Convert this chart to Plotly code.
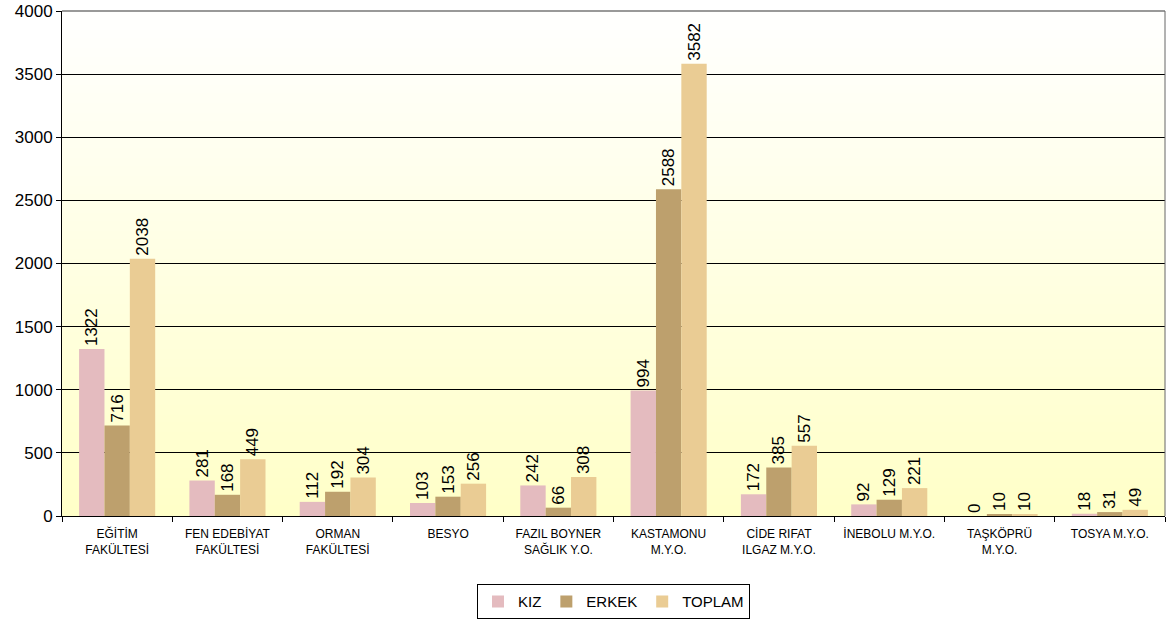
import base64, struct, zlib
import plotly.graph_objects as go

categories = ["EĞİTİM<br>FAKÜLTESİ", "FEN EDEBİYAT<br>FAKÜLTESİ", "ORMAN<br>FAKÜLTESİ", "BESYO",
              "FAZIL BOYNER<br>SAĞLIK Y.O.", "KASTAMONU<br>M.Y.O.", "CİDE RIFAT<br>ILGAZ M.Y.O.",
              "İNEBOLU M.Y.O.", "TAŞKÖPRÜ<br>M.Y.O.", "TOSYA M.Y.O."]
kiz = [1322, 281, 112, 103, 242, 994, 172, 92, 0, 18]
erkek = [716, 168, 192, 153, 66, 2588, 385, 129, 10, 31]
toplam = [2038, 449, 304, 256, 308, 3582, 557, 221, 10, 49]

series = [("KIZ", kiz, "#E4BBBF"), ("ERKEK", erkek, "#BDA06D"), ("TOPLAM", toplam, "#EACC94")]


# vertical gradient png for the plot background (white -> pale yellow)
def gradient_png(h=256):
    rows = b""
    for i in range(h):
        t = i / (h - 1)
        r, g, b = 255, 255, int(255 - t * 55)
        rows += b"\x00" + bytes([r, g, b])

    def chunk(tag, data):
        c = tag + data
        return struct.pack(">I", len(data)) + c + struct.pack(">I", zlib.crc32(c) & 0xffffffff)

    png = b"\x89PNG\r\n\x1a\n" + chunk(b"IHDR", struct.pack(">IIBBBBB", 1, h, 8, 2, 0, 0, 0))
    png += chunk(b"IDAT", zlib.compress(rows)) + chunk(b"IEND", b"")
    return "data:image/png;base64," + base64.b64encode(png).decode()


fig = go.Figure()
for name, vals, col in series:
    fig.add_trace(go.Bar(
        x=categories, y=vals, name=name, marker_color=col, marker_line_width=0,
        text=vals, textposition="outside", textangle=-90, cliponaxis=False,
        textfont=dict(size=17, color="#000000"),
    ))

fig.update_layout(
    width=1168, height=624,
    margin=dict(l=62, r=3, t=11, b=108),
    paper_bgcolor="white", plot_bgcolor="rgba(0,0,0,0)",
    font=dict(family="Liberation Sans, Arial, sans-serif", color="#000000"),
    barmode="group", bargap=0.31, bargroupgap=0,
    uniformtext=dict(minsize=17, mode="show"),
    images=[dict(source=gradient_png(), xref="paper", yref="paper", x=0, y=1,
                 sizex=1, sizey=1, sizing="stretch", layer="below")],
    legend=dict(orientation="h", x=0.5, xanchor="center", y=-0.135, yanchor="top",
                bordercolor="#000000", borderwidth=1, font=dict(size=15),
                itemwidth=30, tracegroupgap=0),
    showlegend=True,
)
fig.update_xaxes(
    showline=True, linecolor="#000000", linewidth=1, ticks="outside", tickson="boundaries",
    ticklen=5, tickcolor="#000000", tickfont=dict(size=12), automargin=False,
    ticklabelstandoff=7,
)
fig.update_yaxes(
    range=[0, 4000], dtick=500, showgrid=True, gridcolor="#000000", gridwidth=1,
    showline=True, linecolor="#000000", linewidth=1, ticks="outside", ticklen=5,
    tickcolor="#000000", tickfont=dict(size=17), zeroline=False, automargin=False,
)
fig.add_shape(type="line", xref="paper", yref="paper", x0=0, x1=1, y0=1, y1=1,
              line=dict(color="#999999", width=2))
fig.add_shape(type="line", xref="paper", yref="paper", x0=1, x1=1, y0=0, y1=1,
              line=dict(color="#666666", width=1))

# drop the default 8px body margin so the figure sits at the page corner
fig.write_html("out.html", config={"displayModeBar": False},
               post_script="document.body.style.margin='0';")
